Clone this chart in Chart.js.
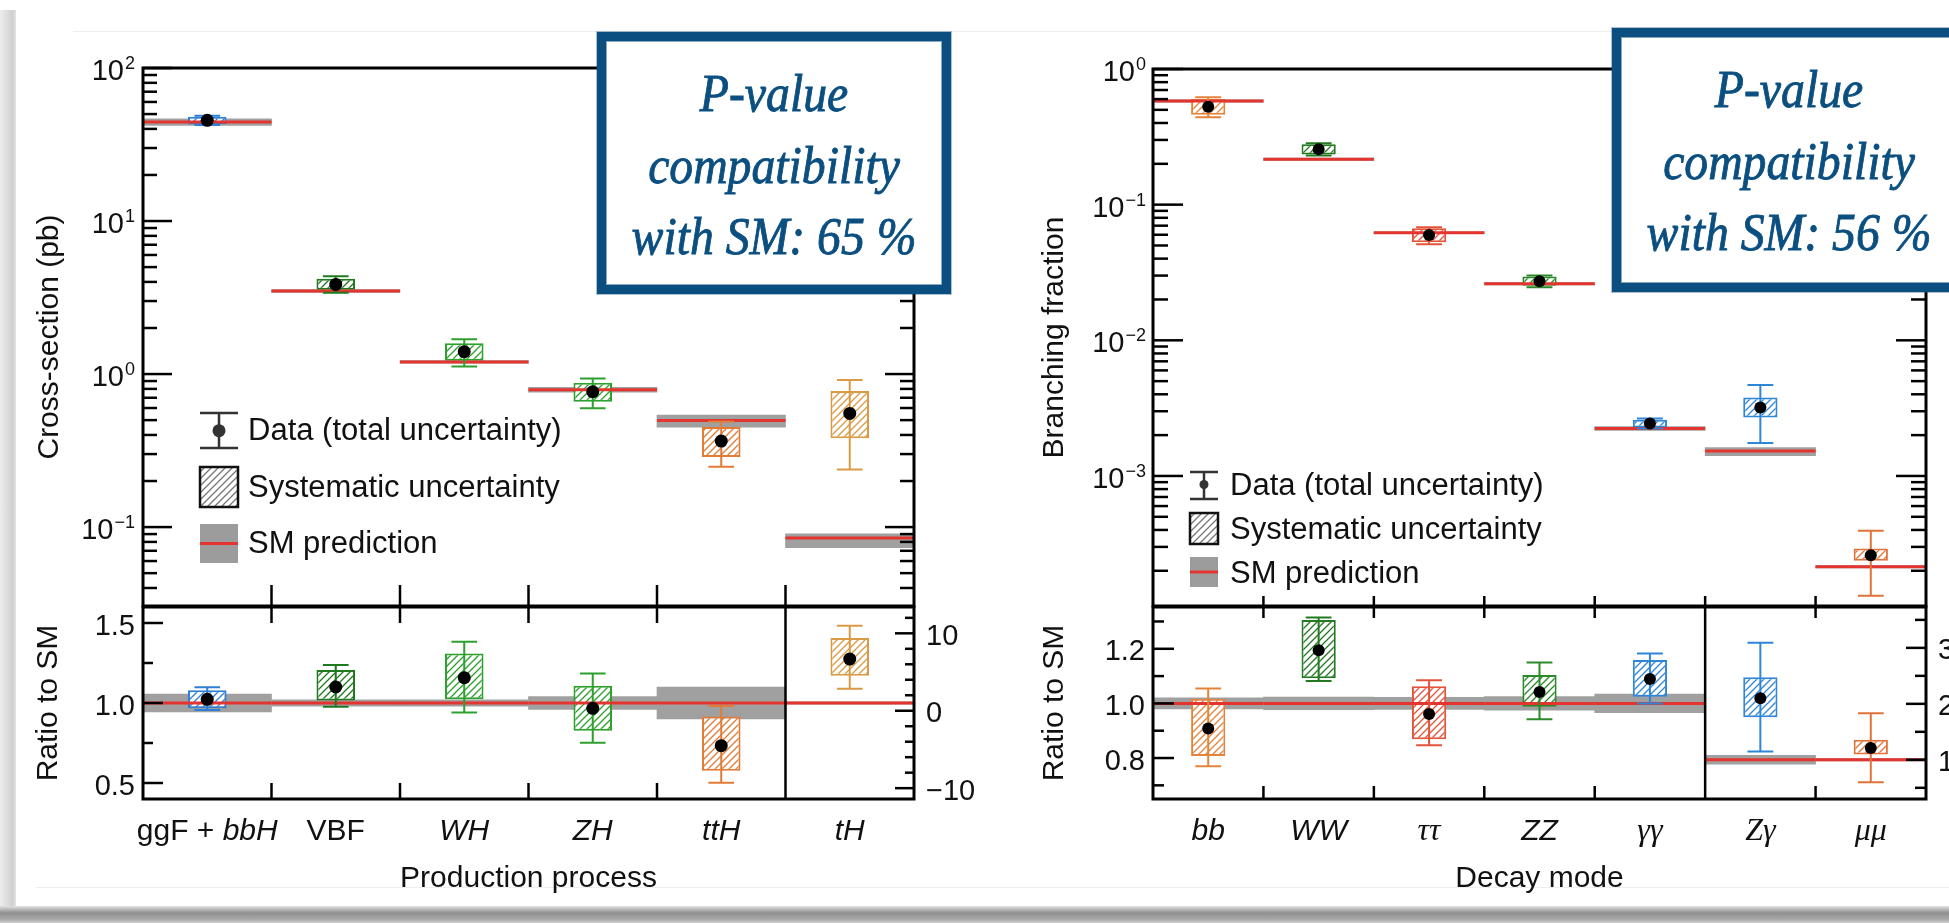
<!DOCTYPE html>
<html>
<head>
<meta charset="utf-8">
<title>Higgs boson production cross-sections and branching fractions</title>
<script src="https://cdn.jsdelivr.net/npm/chart.js@4.4.1/dist/chart.umd.min.js"></script>
<style>
  html, body { margin: 0; padding: 0; background: #fff; }
  body { position: relative; width: 1949px; height: 923px; overflow: hidden; }
  canvas { position: absolute; left: 0; top: 0; }
  .edge-left { position: absolute; left: 0; top: 10px; width: 16px; height: 898px;
    background: linear-gradient(to right, #ededed, #d0d0d0 80%, #e4e4e4); }
  .edge-bottom { position: absolute; left: 0; top: 906px; width: 1949px; height: 17px;
    background: linear-gradient(to bottom, #e2e2e2, #8f8f8f 40%, #a9a9a9 80%, #d2d2d2); }
  .rule { position: absolute; height: 1px; background: #efefef; }
  .pvalue { position: absolute; box-sizing: border-box; border: 9px solid #0b4f80; background: #fff;
    box-shadow: 0 0 0 1px rgba(11, 79, 128, 0.35), inset 0 0 0 1px rgba(11, 79, 128, 0.5);
    color: #0b4f80; font-family: "Liberation Serif", "Times New Roman", serif; font-style: italic;
    font-size: 53px; line-height: 71.5px; text-align: center; padding-top: 17.2px; z-index: 5;
    -webkit-text-stroke: 0.9px #0b4f80; }
  .pvalue div { transform: scaleX(0.9); white-space: nowrap; }
</style>
</head>
<body>
<div class="edge-left"></div>
<div class="edge-bottom"></div>
<div class="rule" style="left:73px; top:31px; width:1876px"></div>
<div class="rule" style="left:36px; top:887px; width:1913px"></div>

<canvas id="prod-top" width="1949" height="923"></canvas>
<canvas id="prod-ratio" width="1949" height="923"></canvas>
<canvas id="decay-top" width="1949" height="923"></canvas>
<canvas id="decay-ratio" width="1949" height="923"></canvas>

<div class="pvalue" style="left:597px; top:32px; width:354px; height:262px">
  <div>P-value</div><div>compatibility</div><div>with SM: 65 %</div>
</div>
<div class="pvalue" style="left:1612px; top:28px; width:354px; height:264px">
  <div>P-value</div><div>compatibility</div><div>with SM: 56 %</div>
</div>

<script>
const W = 1949, H = 923;
const SANS = '"Liberation Sans", Arial, Helvetica, sans-serif';
const SERIF = '"Liberation Serif", "Times New Roman", serif';
const INK = '#111';

// production cross-sections (pb)
const processes = ['ggF + bbH', 'VBF', 'WH', 'ZH', 'ttH', 'tH'];
const xsValue   = [45.5, 3.85, 1.40, 0.766, 0.365, 0.553];
const xsSysLow  = [42.9, 3.55, 1.22, 0.66, 0.287, 0.38];
const xsSysHigh = [48.0, 4.20, 1.59, 0.877, 0.45, 0.774];
const xsTotLow  = [42.4, 3.40, 1.12, 0.597, 0.248, 0.238];
const xsTotHigh = [48.7, 4.35, 1.69, 0.937, 0.49, 0.913];
const xsSM      = [44.4, 3.49, 1.20, 0.79, 0.498, 0.085];
const xsSMLow   = [42.2, 3.42, 1.176, 0.76, 0.45, 0.0733];
const xsSMHigh  = [46.6, 3.56, 1.224, 0.82, 0.54, 0.0905];

// production ratio to SM (tH is read on the right-hand axis)
const prodRatio        = [1.023, 1.10, 1.158, 0.967, 0.733, 6.67];
const prodRatioSysLow  = [0.967, 1.015, 1.023, 0.827, 0.577, 4.52];
const prodRatioSysHigh = [1.08, 1.206, 1.31, 1.108, 0.915, 9.38];
const prodRatioTotLow  = [0.956, 0.977, 0.94, 0.752, 0.502, 2.84];
const prodRatioTotHigh = [1.098, 1.237, 1.383, 1.185, 0.981, 10.97];
const prodRatioSM      = [1, 1, 1, 1, 1, 1];
const prodRatioSMLow   = [0.945, 0.98, 0.98, 0.96, 0.90, 0.85];
const prodRatioSMHigh  = [1.055, 1.02, 1.02, 1.04, 1.10, 1.15];

// branching fractions
const decays    = ['bb', 'WW', 'ττ', 'ZZ', 'γγ', 'Zγ', 'μμ'];
const brValue   = [0.527, 0.256, 0.0597, 0.0273, 0.00244, 0.0032, 0.00026];
const brSysLow  = [0.46, 0.234, 0.0528, 0.0252, 0.00228, 0.0027, 0.000237];
const brSysHigh = [0.60, 0.279, 0.067, 0.0296, 0.0026, 0.00379, 0.000292];
const brTotLow  = [0.44, 0.23, 0.051, 0.0246, 0.00224, 0.00175, 0.000131];
const brTotHigh = [0.62, 0.283, 0.068, 0.0300, 0.00265, 0.00468, 0.000394];
const brSM      = [0.581, 0.216, 0.0621, 0.0261, 0.00224, 0.00153, 0.000214];
const brSMLow   = [0.57, 0.212, 0.0611, 0.0256, 0.00217, 0.00141, 0.00021];
const brSMHigh  = [0.592, 0.22, 0.0631, 0.0266, 0.00231, 0.00162, 0.000218];

// decay ratio to SM (Zγ and μμ are read on the right-hand axis)
const decayRatio        = [0.908, 1.195, 0.961, 1.042, 1.089, 2.10, 1.21];
const decayRatioSysLow  = [0.807, 1.092, 0.869, 0.988, 1.024, 1.76, 1.095];
const decayRatioSysHigh = [1.017, 1.305, 1.063, 1.104, 1.159, 2.475, 1.36];
const decayRatioTotLow  = [0.770, 1.082, 0.847, 0.942, 1.0, 1.15, 0.60];
const decayRatioTotHigh = [1.055, 1.315, 1.085, 1.15, 1.183, 3.09, 1.83];
const decayRatioSM      = [1, 1, 1, 1, 1, 1, 1];
const decayRatioSMLow   = [0.98, 0.977, 0.978, 0.975, 0.966, 0.92, 0.98];
const decayRatioSMHigh  = [1.02, 1.023, 1.022, 1.025, 1.034, 1.08, 1.02];

// axis ticks
const xsDecades = [-1, 0, 1, 2];
const brDecades = [-3, -2, -1, 0];
const prodRatioTicks = [0.5, 1.0, 1.5];
const prodRatioMinor = [0.75, 1.25];
const tHRatioTicks = [-10, 0, 10];
const tHRatioMinor = [-8, -6, -4, -2, 2, 4, 6, 8, 12];
const decayRatioTicks = [0.8, 1.0, 1.2];
const decayRatioMinor = [0.7, 0.9, 1.1, 1.3];
const rareRatioTicks = [1, 2, 3];
const rareRatioMinor = [0.5, 1.5, 2.5, 3.5];

const prodColors  = ['#2e7fd6', '#1f7a1f', '#2da02d', '#2da02d', '#e27b35', '#d99a45'];
const decayColors = ['#e4843c', '#237a23', '#e2553a', '#2a8a2a', '#2f86d6', '#2f86d6', '#e0733a'];

// diagonal hatching for the systematic boxes
function hatch(color, bg) {
  const s = 7;
  const tile = document.createElement('canvas');
  tile.width = s; tile.height = s;
  const g = tile.getContext('2d');
  g.fillStyle = bg || '#fff';
  g.fillRect(0, 0, s, s);
  g.strokeStyle = color;
  g.lineWidth = 1.3;
  g.beginPath();
  g.moveTo(0, s); g.lineTo(s, 0);
  g.moveTo(-s / 2, s / 2); g.lineTo(s / 2, -s / 2);
  g.moveTo(s / 2, s * 1.5); g.lineTo(s * 1.5, s / 2);
  g.stroke();
  return g.createPattern(tile, 'repeat');
}

// one group of marks per category: SM band, SM line, syst box, total error bar, point
function panelDatasets(p) {
  const sets = [];
  for (let i = 0; i < p.value.length; i++) {
    const c = i + 0.5, w = p.cap, col = p.colors[i];
    const yAxisID = (p.split != null && i >= p.split) ? 'y2' : 'y';
    sets.push({ type: 'bar', yAxisID, order: 6, grouped: false, barPercentage: 1, categoryPercentage: 1,
      backgroundColor: '#a0a0a0', borderWidth: 0, data: [{ x: c, y: [p.smLow[i], p.smHigh[i]] }] });
    sets.push({ type: 'bar', yAxisID, order: 5, grouped: false, barPercentage: p.boxWidth, categoryPercentage: 1,
      backgroundColor: hatch(col), borderColor: col, borderWidth: 2, borderSkipped: false,
      data: [{ x: c, y: [p.sysLow[i], p.sysHigh[i]] }] });
    sets.push({ type: 'line', yAxisID, order: 4, borderColor: '#e3342f', borderWidth: 3, pointRadius: 0,
      data: [{ x: i, y: p.sm[i] }, { x: i + 1, y: p.sm[i] }] });
    sets.push({ type: 'line', yAxisID, order: 3, borderColor: col, borderWidth: 2, pointRadius: 0,
      data: [
        { x: c, y: p.totLow[i] }, { x: c, y: p.totHigh[i] }, { x: c, y: null },
        { x: c - w, y: p.totHigh[i] }, { x: c + w, y: p.totHigh[i] }, { x: c, y: null },
        { x: c - w, y: p.totLow[i] }, { x: c + w, y: p.totLow[i] }
      ] });
    sets.push({ type: 'scatter', yAxisID, order: 1, pointRadius: p.dot, pointBorderWidth: 0,
      pointBackgroundColor: '#000', data: [{ x: c, y: p.value[i] }] });
  }
  return sets;
}

function panelOptions(area, n, yScales) {
  return {
    responsive: false, animation: false, events: [],
    layout: { padding: { left: area.left, top: area.top, right: W - area.right, bottom: H - area.bottom } },
    plugins: { legend: { display: false }, tooltip: { enabled: false } },
    scales: Object.assign({
      x: { type: 'linear', display: false, offset: false, min: 0, max: n, ticks: { stepSize: 1 } }
    }, yScales)
  };
}

function seg(ctx, x1, y1, x2, y2) {
  ctx.beginPath(); ctx.moveTo(x1, y1); ctx.lineTo(x2, y2); ctx.stroke();
}

function logTicks(decades, min, max) {
  const major = [], minor = [];
  for (let d = decades[0] - 1; d <= decades[decades.length - 1]; d++) {
    for (let m = 1; m <= 9; m++) {
      const v = m * Math.pow(10, d);
      if (v < min * 0.999 || v > max * 1.001) continue;
      (m === 1 ? major : minor).push(v);
    }
  }
  return { major, minor };
}

function yTicks(chart, id, values, len, side) {
  const { ctx, chartArea: a } = chart;
  const s = chart.scales[id];
  values.forEach(v => {
    if (v < s.min || v > s.max) return;
    const y = s.getPixelForValue(v);
    if (side === 'left') seg(ctx, a.left, y, a.left + len, y);
    else seg(ctx, a.right, y, a.right - len, y);
  });
}

function powerLabel(ctx, xr, y, exp) {
  const e = exp < 0 ? '\u2212' + (-exp) : String(exp);
  ctx.textAlign = 'left'; ctx.textBaseline = 'alphabetic';
  ctx.font = `18px ${SANS}`;
  const ew = ctx.measureText(e).width;
  ctx.fillText(e, xr - ew, y + 1);
  ctx.font = `29px ${SANS}`;
  const bw = ctx.measureText('10').width;
  ctx.fillText('10', xr - ew - 1 - bw, y + 12);
}

function numLabels(chart, id, values, side, gap, fmt) {
  const { ctx, chartArea: a } = chart;
  const s = chart.scales[id];
  ctx.font = `29px ${SANS}`;
  ctx.textBaseline = 'alphabetic';
  ctx.textAlign = side === 'left' ? 'right' : 'left';
  values.forEach(v => {
    const y = s.getPixelForValue(v);
    const x = side === 'left' ? a.left - gap : a.right + gap;
    ctx.fillText(fmt(v), x, y + 11.5);
  });
}

function vTitle(ctx, text, x, y) {
  ctx.save();
  ctx.translate(x, y);
  ctx.rotate(-Math.PI / 2);
  ctx.font = `30px ${SANS}`;
  ctx.textAlign = 'center'; ctx.textBaseline = 'middle';
  ctx.fillText(text, 0, 0);
  ctx.restore();
}

const UPRIGHT = new Set(['ggF', '+', 'VBF']);
function categoryLabel(ctx, text, cx, y) {
  const words = text.split(' ');
  const fonts = words.map(w => UPRIGHT.has(w) ? `30px ${SANS}`
    : /[\u0370-\u03ff]/.test(w) ? `italic 32px ${SERIF}` : `italic 30px ${SANS}`);
  ctx.font = `30px ${SANS}`;
  const space = ctx.measureText(' ').width;
  const widths = words.map((w, i) => { ctx.font = fonts[i]; return ctx.measureText(w).width; });
  const total = widths.reduce((s, v) => s + v, 0) + space * (words.length - 1);
  let x = cx - total / 2;
  ctx.textAlign = 'left'; ctx.textBaseline = 'alphabetic';
  words.forEach((w, i) => { ctx.font = fonts[i]; ctx.fillText(w, x, y); x += widths[i] + space; });
}

function drawLegend(ctx, g) {
  ctx.save();
  const xc = (g.x1 + g.x2) / 2;
  // data point with total error bar
  ctx.strokeStyle = '#333'; ctx.lineWidth = 2.5;
  seg(ctx, xc, g.errTop, xc, g.errBottom);
  seg(ctx, g.x1, g.errTop, g.x2, g.errTop);
  seg(ctx, g.x1, g.errBottom, g.x2, g.errBottom);
  ctx.fillStyle = '#333';
  ctx.beginPath(); ctx.arc(xc, g.dotY, g.dotR, 0, Math.PI * 2); ctx.fill();
  // systematic box
  ctx.fillStyle = hatch('#777');
  ctx.fillRect(g.x1, g.boxTop, g.x2 - g.x1, g.boxBottom - g.boxTop);
  ctx.strokeStyle = '#111'; ctx.lineWidth = 2.5;
  ctx.strokeRect(g.x1, g.boxTop, g.x2 - g.x1, g.boxBottom - g.boxTop);
  // SM band and line
  ctx.fillStyle = '#9c9c9c';
  ctx.fillRect(g.x1, g.smTop, g.x2 - g.x1, g.smBottom - g.smTop);
  ctx.strokeStyle = '#e3342f'; ctx.lineWidth = 3;
  const ym = (g.smTop + g.smBottom) / 2;
  seg(ctx, g.x1, ym, g.x2, ym);
  // texts
  ctx.fillStyle = INK; ctx.font = `31px ${SANS}`;
  ctx.textAlign = 'left'; ctx.textBaseline = 'alphabetic';
  ['Data (total uncertainty)', 'Systematic uncertainty', 'SM prediction']
    .forEach((t, i) => ctx.fillText(t, g.textX, g.baselines[i]));
  ctx.restore();
}

// axes, ticks and labels for a log-scale panel
function logAxesPlugin(cfg) {
  return {
    id: cfg.id,
    afterDraw(chart) {
      const { ctx, chartArea: a } = chart;
      const ys = chart.scales.y, xs = chart.scales.x;
      const t = logTicks(cfg.decades, ys.min, ys.max);
      ctx.save();
      ctx.strokeStyle = '#000'; ctx.lineWidth = 2.5;
      ['left', 'right'].forEach(side => {
        yTicks(chart, 'y', t.major, cfg.majorLen, side);
        yTicks(chart, 'y', t.minor, cfg.minorLen, side);
      });
      for (let i = 1; i < cfg.n; i++) {
        const px = xs.getPixelForValue(i);
        seg(ctx, px, a.bottom, px, a.bottom - cfg.catTick);
      }
      ctx.lineWidth = 3;
      ctx.strokeRect(a.left, a.top, a.right - a.left, a.bottom - a.top);
      ctx.fillStyle = INK;
      cfg.decades.forEach(d => powerLabel(ctx, a.left - cfg.labelGap, ys.getPixelForValue(Math.pow(10, d)), d));
      vTitle(ctx, cfg.title, cfg.titleX, (a.top + a.bottom) / 2);
      ctx.restore();
      drawLegend(ctx, cfg.legend);
    }
  };
}

// axes, ticks and labels for a ratio panel with a second axis on the right
function ratioAxesPlugin(cfg) {
  return {
    id: cfg.id,
    afterDraw(chart) {
      const { ctx, chartArea: a } = chart;
      const xs = chart.scales.x;
      ctx.save();
      ctx.strokeStyle = '#000'; ctx.lineWidth = 2.5;
      yTicks(chart, 'y', cfg.leftMajor, cfg.leftLen[0], 'left');
      yTicks(chart, 'y', cfg.leftMinor, cfg.leftLen[1], 'left');
      yTicks(chart, 'y2', cfg.rightMajor, cfg.rightLen[0], 'right');
      yTicks(chart, 'y2', cfg.rightMinor, cfg.rightLen[1], 'right');
      for (let i = 1; i < cfg.n; i++) {
        const px = xs.getPixelForValue(i);
        if (i === cfg.split) { seg(ctx, px, a.top, px, a.bottom); continue; }
        seg(ctx, px, a.top, px, a.top + cfg.catTick[0]);
        seg(ctx, px, a.bottom, px, a.bottom - cfg.catTick[1]);
      }
      ctx.lineWidth = 3;
      ctx.strokeRect(a.left, a.top, a.right - a.left, a.bottom - a.top);
      ctx.fillStyle = INK;
      numLabels(chart, 'y', cfg.leftMajor, 'left', 8, cfg.leftFmt);
      numLabels(chart, 'y2', cfg.rightMajor, 'right', 12, cfg.rightFmt);
      cfg.labels.forEach((t, i) => categoryLabel(ctx, t, xs.getPixelForValue(i + 0.5), 840));
      ctx.font = `30px ${SANS}`; ctx.textAlign = 'center'; ctx.textBaseline = 'alphabetic';
      ctx.fillText(cfg.xTitle, (a.left + a.right) / 2, 886.5);
      vTitle(ctx, 'Ratio to SM', cfg.titleX, (a.top + a.bottom) / 2);
      ctx.restore();
    }
  };
}

const minus = v => (v < 0 ? '\u2212' + (-v) : String(v));

// production: cross-sections
new Chart(document.getElementById('prod-top'), {
  type: 'bar',
  data: { datasets: panelDatasets({ value: xsValue, sysLow: xsSysLow, sysHigh: xsSysHigh, totLow: xsTotLow,
    totHigh: xsTotHigh, sm: xsSM, smLow: xsSMLow, smHigh: xsSMHigh, colors: prodColors,
    cap: 0.1, boxWidth: 0.3, dot: 6.5 }) },
  options: panelOptions({ left: 143, right: 914, top: 68, bottom: 606 }, processes.length, {
    y: { type: 'logarithmic', display: false, min: 0.0305, max: 100 }
  }),
  plugins: [logAxesPlugin({ id: 'prodTopAxes', n: processes.length, decades: xsDecades, majorLen: 29, minorLen: 14,
    catTick: 21, labelGap: 8, title: 'Cross-section (pb)', titleX: 50,
    legend: { x1: 200, x2: 238, errTop: 413, errBottom: 448, dotY: 430.7, dotR: 6.5, boxTop: 467, boxBottom: 507,
      smTop: 524, smBottom: 563, textX: 248, baselines: [440, 496.5, 553] } })]
});

// production: ratio to SM
new Chart(document.getElementById('prod-ratio'), {
  type: 'bar',
  data: { datasets: panelDatasets({ value: prodRatio, sysLow: prodRatioSysLow, sysHigh: prodRatioSysHigh,
    totLow: prodRatioTotLow, totHigh: prodRatioTotHigh, sm: prodRatioSM, smLow: prodRatioSMLow,
    smHigh: prodRatioSMHigh, colors: prodColors, split: 5, cap: 0.1, boxWidth: 0.3, dot: 6.5 }) },
  options: panelOptions({ left: 143, right: 914, top: 607, bottom: 799 }, processes.length, {
    y: { type: 'linear', display: false, min: 0.4, max: 1.6, beginAtZero: false },
    y2: { type: 'linear', display: false, position: 'right', min: -11.4, max: 13.4, beginAtZero: false }
  }),
  plugins: [ratioAxesPlugin({ id: 'prodRatioAxes', n: processes.length, split: 5, labels: processes,
    leftMajor: prodRatioTicks, leftMinor: prodRatioMinor, leftLen: [20, 10],
    rightMajor: tHRatioTicks, rightMinor: tHRatioMinor, rightLen: [19, 9],
    catTick: [16, 16], leftFmt: v => v.toFixed(1), rightFmt: minus,
    xTitle: 'Production process', titleX: 49 })]
});

// decay: branching fractions
new Chart(document.getElementById('decay-top'), {
  type: 'bar',
  data: { datasets: panelDatasets({ value: brValue, sysLow: brSysLow, sysHigh: brSysHigh, totLow: brTotLow,
    totHigh: brTotHigh, sm: brSM, smLow: brSMLow, smHigh: brSMHigh, colors: decayColors,
    cap: 0.117, boxWidth: 0.31, dot: 6 }) },
  options: panelOptions({ left: 1153, right: 1926, top: 69, bottom: 606 }, decays.length, {
    y: { type: 'logarithmic', display: false, min: 1.1e-4, max: 1 }
  }),
  plugins: [logAxesPlugin({ id: 'decayTopAxes', n: decays.length, decades: brDecades, majorLen: 30, minorLen: 15,
    catTick: 10, labelGap: 7, title: 'Branching fraction', titleX: 1055,
    legend: { x1: 1190, x2: 1218, errTop: 472, errBottom: 499, dotY: 484.5, dotR: 4.5, boxTop: 513, boxBottom: 544,
      smTop: 557, smBottom: 587, textX: 1230, baselines: [495, 539, 582.7] } })]
});

// decay: ratio to SM
new Chart(document.getElementById('decay-ratio'), {
  type: 'bar',
  data: { datasets: panelDatasets({ value: decayRatio, sysLow: decayRatioSysLow, sysHigh: decayRatioSysHigh,
    totLow: decayRatioTotLow, totHigh: decayRatioTotHigh, sm: decayRatioSM, smLow: decayRatioSMLow,
    smHigh: decayRatioSMHigh, colors: decayColors, split: 5, cap: 0.117, boxWidth: 0.31, dot: 6 }) },
  options: panelOptions({ left: 1153, right: 1926, top: 607, bottom: 799 }, decays.length, {
    y: { type: 'linear', display: false, min: 0.65, max: 1.353, beginAtZero: false },
    y2: { type: 'linear', display: false, position: 'right', min: 0.30, max: 3.73, beginAtZero: false }
  }),
  plugins: [ratioAxesPlugin({ id: 'decayRatioAxes', n: decays.length, split: 5, labels: decays,
    leftMajor: decayRatioTicks, leftMinor: decayRatioMinor, leftLen: [21, 11],
    rightMajor: rareRatioTicks, rightMinor: rareRatioMinor, rightLen: [20, 11],
    catTick: [11, 13], leftFmt: v => v.toFixed(1), rightFmt: String,
    xTitle: 'Decay mode', titleX: 1055 })]
});
</script>
</body>
</html>
